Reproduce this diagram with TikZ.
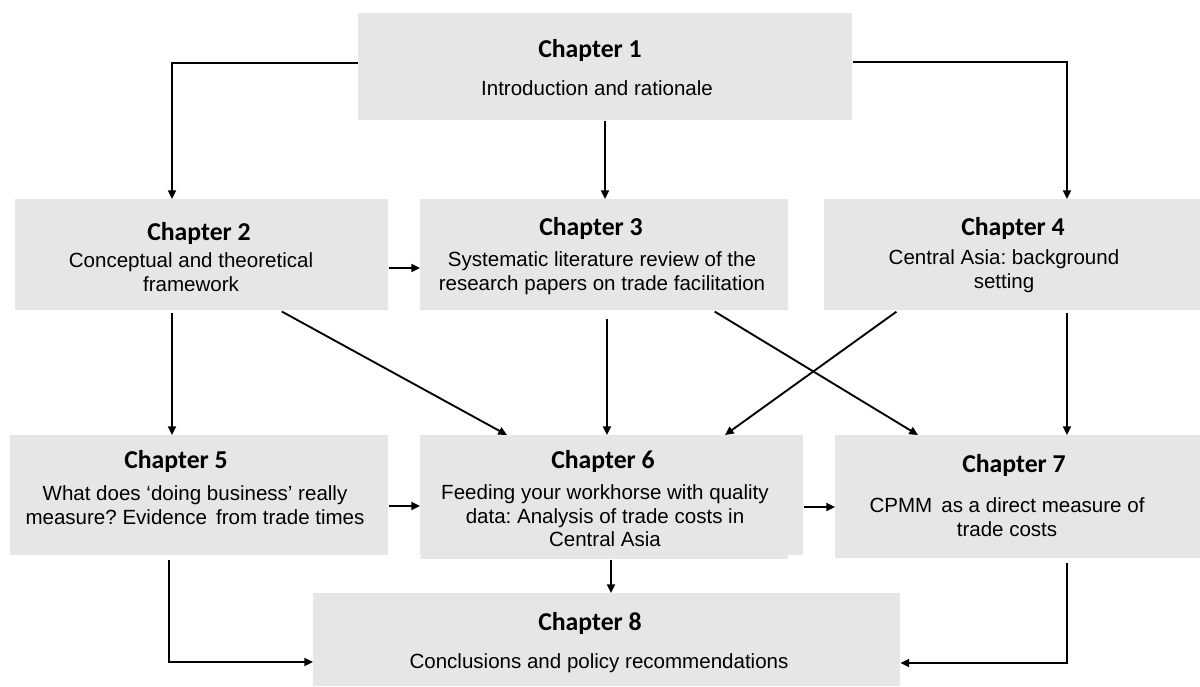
\documentclass[tikz,border=0pt]{standalone}
\usepackage{fontspec}
\setmainfont{Liberation Sans}
\newfontfamily\headfont{Carlito}
\usetikzlibrary{arrows.meta}
\definecolor{boxgray}{HTML}{E7E6E6}
\frenchspacing
\begin{document}
\begin{tikzpicture}[x=0.75pt,y=-0.75pt,
  chap/.style={fill=boxgray, draw=none, inner sep=0pt, anchor=north west},
  title/.style={font=\headfont\bfseries\fontsize{19.3}{23}\selectfont, anchor=base, inner sep=0pt},
  body/.style={font=\fontsize{15.4}{17.8}\selectfont, anchor=north, inner sep=0pt, align=center},
  arr/.style={draw=black, line width=1.4pt, -{Triangle[length=6.5pt,width=6pt]}},
]
\useasboundingbox (0,0) rectangle (1200,686);

% chapter boxes
\node[chap, minimum width=370.5pt, minimum height=80.25pt] (c1) at (358,13) {};
\node[chap, minimum width=279.75pt, minimum height=83.25pt] (c2) at (15,199) {};
\node[chap, minimum width=276pt,    minimum height=83.25pt] (c3) at (420,199) {};
\node[chap, minimum width=282pt,    minimum height=83.25pt] (c4) at (824,199) {};
\node[chap, minimum width=283.5pt,  minimum height=90pt]    (c5) at (10,435) {};
\fill[boxgray] (421,550) rectangle (788,559);
\node[chap, minimum width=287.25pt, minimum height=90pt]    (c6) at (420,435) {};
\node[chap, minimum width=273.75pt, minimum height=92.25pt] (c7) at (835,435) {};
\node[chap, minimum width=440.25pt, minimum height=69.75pt] (c8) at (313,593) {};

% titles and descriptions
\node[title] (t1) at (590,57) {Chapter 1};
\node[body]  (d1) at (597,78.4) {\strut Introduction and rationale};
\node[title] (t2) at (199,240) {Chapter 2};
\node[body]  (d2) at (191,250.4) {\strut Conceptual and theoretical\\framework};
\node[title] (t3) at (591,235) {Chapter 3};
\node[body]  (d3) at (602,249.4) {\strut Systematic literature review of the\\research papers on trade facilitation};
\node[title] (t4) at (1013,235) {Chapter 4};
\node[body]  (d4) at (1004,247.4) {\strut Central Asia: background\\setting};
\node[title] (t5) at (176,468) {Chapter 5};
\node[body]  (d5) at (195,483.4) {\strut What does ‘doing business’ really\\measure? Evidence\, from trade times};
\node[title] (t6) at (603,468) {Chapter 6};
\node[body]  (d6) at (605,482.4) {\strut Feeding your workhorse with quality\\data: Analysis of trade costs in\\Central Asia};
\node[title] (t7) at (1014,472) {Chapter 7};
\node[body]  (d7) at (1007,495.4) {\strut CPMM\, as a direct measure of\\trade costs};
\node[title] (t8) at (590,630) {Chapter 8};
\node[body]  (d8) at (599,651.4) {\strut Conclusions and policy recommendations};

% connectors
\draw[arr] (c1.west |- 0,63) -| (c2.north -| 172,0);
\draw[arr] (c1.south -| 605,0) -- (c3.north -| 605,0);
\draw[arr] (c1.east |- 0,62) -| (c4.north -| 1067,0);
\draw[arr] (c2.east |- 0,268) -- (c3.west |- 0,268);
\draw[arr, shorten <=1.5pt] (c2.south -| 172,0) -- (c5.north -| 172,0);
\draw[arr, shorten <=1.5pt] (c2.south -| 280,0) -- (c6.north -| 507,0);
\draw[arr, shorten <=6pt] (c3.south -| 607,0) -- (c6.north -| 607,0);
\draw[arr, shorten <=1.5pt] (c3.south -| 713,0) -- (c7.north -| 918,0);
\draw[arr, shorten <=1.5pt] (c4.south -| 898,0) -- (c6.north -| 725,0);
\draw[arr, shorten <=1.5pt] (c4.south -| 1067,0) -- (c7.north -| 1067,0);
\draw[arr] (c5.east |- 0,506) -- (c6.west |- 0,506);
\draw[arr] (c6.east |- 0,507) -- (c7.west |- 0,507);
\draw[arr] (c6.south -| 611,0) ++(0,4) -- (c8.north -| 611,0);
\draw[arr, shorten <=3.5pt] (c5.south -| 169,0) |- (c8.west |- 0,662);
\draw[arr, shorten <=3.5pt] (c7.south -| 1067,0) |- (c8.east |- 0,663);
\end{tikzpicture}
\end{document}
